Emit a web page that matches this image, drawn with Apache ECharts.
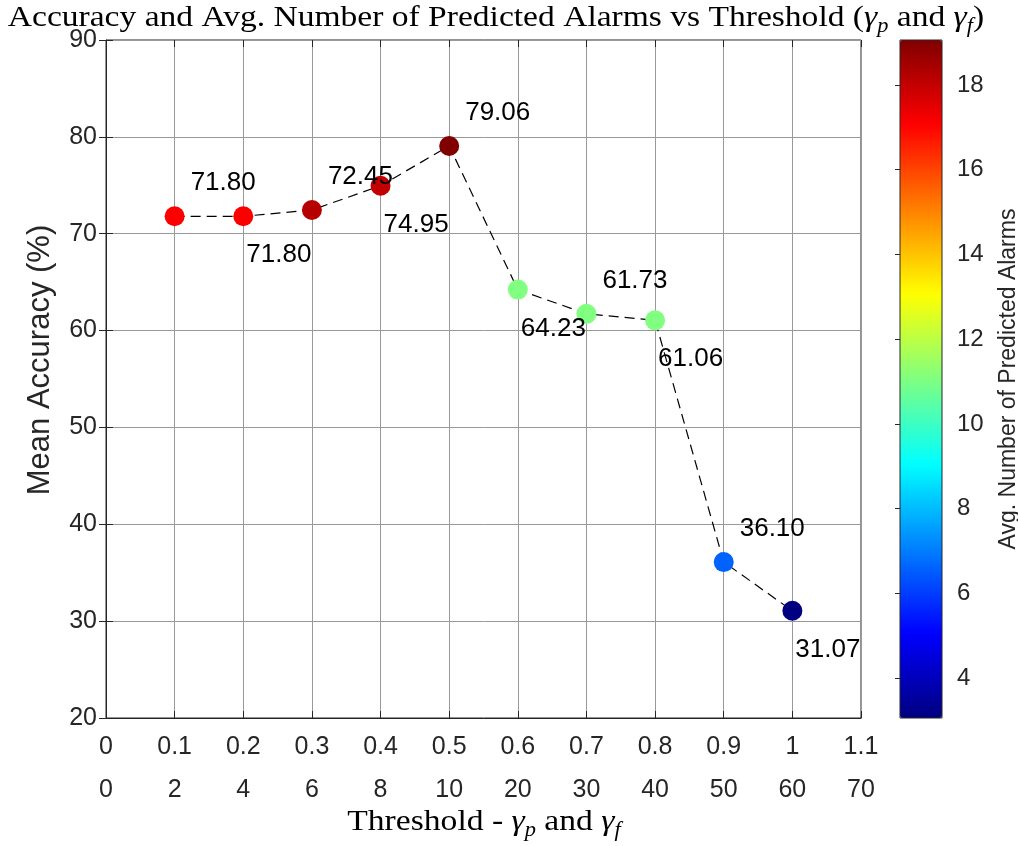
<!DOCTYPE html>
<html>
<head>
<meta charset="utf-8">
<script src="https://cdn.jsdelivr.net/npm/echarts@6/dist/echarts.min.js"></script>
<style>
  html, body { margin: 0; padding: 0; background: #fff; }
  #chart { width: 1018px; height: 846px; }
</style>
</head>
<body>
<div id="chart"></div>
<script>
// Threshold sweep: gamma_p on the first tick row, gamma_f on the second
const thresholds = [0.1, 0.2, 0.3, 0.4, 0.5, 0.6, 0.7, 0.8, 0.9, 1.0];
const meanAccuracy = [71.80, 71.80, 72.45, 74.95, 79.06, 64.23, 61.73, 61.06, 36.10, 31.07];
const avgAlarms = [17.1, 17.1, 18.2, 18.0, 19.06, 11.06, 11.06, 11.06, 6.6, 3.06];

const gammaPTicks = ['0', '0.1', '0.2', '0.3', '0.4', '0.5', '0.6', '0.7', '0.8', '0.9', '1', '1.1'];
const gammaFTicks = ['0', '2', '4', '6', '8', '10', '20', '30', '40', '50', '60', '70'];
const colorbarTicks = [4, 6, 8, 10, 12, 14, 16, 18];
const alarmRange = [3.06, 19.06];

// jet colormap breakpoints (evenly spaced)
const jet = ['#000080', '#0000ff', '#0080ff', '#00ffff', '#80ff80', '#ffff00', '#ff8000', '#ff0000', '#800000'];

const SANS = 'Liberation Sans, Arial, Helvetica, sans-serif';
const SERIF = 'Liberation Serif, Times New Roman, serif';
const AX = '#262626';
const GRID = '#999999';

function mathRich(size) {
  const sub = Math.round(size * 0.68);
  return {
    n: { fontFamily: SERIF, fontSize: size, color: '#000', lineHeight: size + 8, verticalAlign: 'middle' },
    g: { fontFamily: SERIF, fontSize: size, fontStyle: 'italic', color: '#000', lineHeight: size + 8, verticalAlign: 'middle' },
    s: { fontFamily: SERIF, fontSize: sub, fontStyle: 'italic', color: '#000', lineHeight: sub, verticalAlign: 'bottom' }
  };
}

const chart = echarts.init(document.getElementById('chart'), null, { renderer: 'canvas' });

chart.setOption({
  animation: false,
  backgroundColor: '#fff',
  graphic: [
    {
      type: 'text', x: 496, y: 18, scaleX: 1.118, z: 20,
      style: {
        text: '{n|Accuracy and Avg. Number of Predicted Alarms vs Threshold (}{g|γ}{s|p}{n| and }{g|γ}{s|f}{n|)}',
        align: 'center', verticalAlign: 'middle',
        rich: mathRich(30)
      }
    },
    {
      type: 'text', x: 484, y: 822, scaleX: 1.12, z: 20,
      style: {
        text: '{n|Threshold - }{g|γ}{s|p}{n| and }{g|γ}{s|f}',
        align: 'center', verticalAlign: 'middle',
        rich: mathRich(30)
      }
    },
    {
      type: 'text', x: 40, y: 360, rotation: Math.PI / 2, z: 20,
      style: {
        text: 'Mean Accuracy (%)',
        align: 'center', verticalAlign: 'middle',
        fill: AX, fontFamily: SANS, fontSize: 31
      }
    }
  ],
  grid: [
    { left: 106, top: 40, width: 755, height: 678, outerBoundsMode: 'none',
      show: true, borderColor: AX, borderWidth: 1, backgroundColor: 'transparent' },
    { left: 900, top: 40, width: 42, height: 678, outerBoundsMode: 'none',
      show: true, borderColor: AX, borderWidth: 1, backgroundColor: 'transparent', z: 10 }
  ],
  xAxis: [
    {
      gridIndex: 0, type: 'value', min: 0, max: 1.1, interval: 0.1,
      axisLine: { lineStyle: { color: AX } },
      axisTick: { inside: true, length: 7, lineStyle: { color: AX } },
      splitLine: { show: true, lineStyle: { color: GRID, width: 1 } },
      axisLabel: {
        color: AX, fontFamily: SANS, fontSize: 25, lineHeight: 43, margin: 8,
        formatter: function (v) {
          const i = Math.round(v * 10);
          return gammaPTicks[i] + '\n' + gammaFTicks[i];
        }
      }
    },
    {
      gridIndex: 0, type: 'value', min: 0, max: 1.1, interval: 0.1, position: 'top',
      axisLine: { show: false }, axisLabel: { show: false }, splitLine: { show: false },
      axisTick: { inside: true, length: 7, lineStyle: { color: AX } }
    },
    { gridIndex: 1, type: 'value', min: 0, max: 1, show: false }
  ],
  yAxis: [
    {
      gridIndex: 0, type: 'value', min: 20, max: 90, interval: 10,
      axisLine: { show: true, lineStyle: { color: AX } },
      axisTick: { show: true, inside: true, length: 7, lineStyle: { color: AX } },
      splitLine: { show: true, lineStyle: { color: GRID, width: 1 } },
      axisLabel: { color: AX, fontFamily: SANS, fontSize: 25, margin: 9 }
    },
    {
      gridIndex: 0, type: 'value', min: 20, max: 90, interval: 10, position: 'right',
      axisLine: { show: false }, axisLabel: { show: false }, splitLine: { show: false },
      axisTick: { show: true, inside: true, length: 7, lineStyle: { color: AX } }
    },
    {
      gridIndex: 1, type: 'value', min: alarmRange[0], max: alarmRange[1], position: 'right',
      axisLine: { show: false }, splitLine: { show: false },
      axisTick: { show: true, inside: true, length: 5, customValues: colorbarTicks, lineStyle: { color: AX } },
      axisLabel: { color: AX, fontFamily: SANS, fontSize: 24, margin: 15, customValues: colorbarTicks },
      name: 'Avg. Number of Predicted Alarms', nameLocation: 'middle', nameGap: 55, nameRotate: 90,
      nameTextStyle: { color: AX, fontFamily: SANS, fontSize: 23 }
    }
  ],
  visualMap: {
    type: 'continuous',
    min: alarmRange[0], max: alarmRange[1],
    dimension: 2, seriesIndex: 1,
    left: 900, top: 40, itemWidth: 42, itemHeight: 678, padding: 0,
    calculable: false, hoverLink: false,
    inRange: { color: jet }
  },
  series: [
    {
      type: 'line', xAxisIndex: 0, yAxisIndex: 0,
      data: thresholds.map((x, i) => [x, meanAccuracy[i]]),
      symbol: 'none', silent: true, z: 2,
      lineStyle: { color: '#000', width: 1.2, type: [10, 6] }
    },
    {
      type: 'scatter', xAxisIndex: 0, yAxisIndex: 0,
      data: thresholds.map((x, i) => ({
        value: [x, meanAccuracy[i], avgAlarms[i]],
        label: { offset: i % 2 === 0 ? [16, -33] : [3, 39] }
      })),
      symbolSize: 20, z: 3,
      itemStyle: { opacity: 1 },
      label: {
        show: true, position: 'inside', align: 'left', verticalAlign: 'middle',
        color: '#000', fontFamily: SANS, fontSize: 26,
        formatter: p => p.value[1].toFixed(2)
      }
    }
  ]
});
</script>
</body>
</html>
